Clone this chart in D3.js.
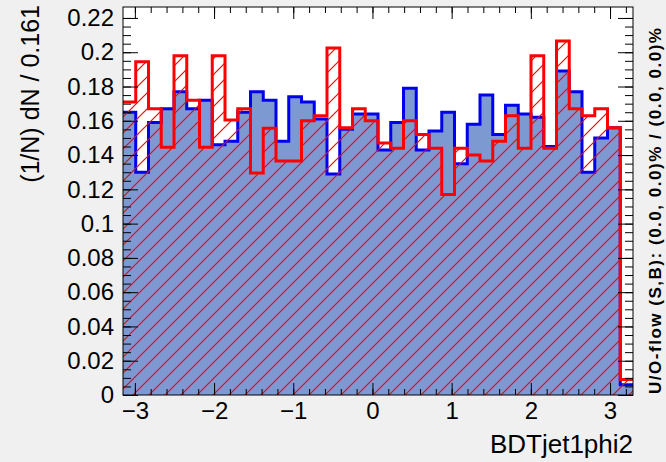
<!DOCTYPE html>
<html>
<head>
<meta charset="utf-8">
<script src="https://cdn.jsdelivr.net/npm/d3@7"></script>
<style>
  body { margin: 0; background: #f0f0f0; }
  svg { display: block; }
  text { font-family: "Liberation Sans", Arial, sans-serif; fill: #000; }
</style>
</head>
<body>
<div id="chart"></div>
<script>
// binning of the variable
const xMin = -3.15,
      binWidth = 0.161,
      nBins = 40;

// normalised signal (blue, filled) and background (red, hatched)
const signalValues = [
  0.165, 0.130, 0.159, 0.167, 0.177, 0.167, 0.172, 0.146, 0.148, 0.165,
  0.177, 0.172, 0.148, 0.174, 0.171, 0.161, 0.129, 0.155, 0.164, 0.164,
  0.143, 0.159, 0.179, 0.143, 0.154, 0.165, 0.135, 0.158, 0.175, 0.152,
  0.169, 0.164, 0.162, 0.145, 0.189, 0.177, 0.130, 0.150, 0.156, 0.006
];
const backgroundValues = [
  0.171, 0.1945, 0.167, 0.1445, 0.198, 0.172, 0.1445, 0.198, 0.1605, 0.167,
  0.1295, 0.1556, 0.1366, 0.1366, 0.160, 0.163, 0.2025, 0.156, 0.167, 0.160,
  0.147, 0.144, 0.160, 0.152, 0.144, 0.117, 0.144, 0.140, 0.1366, 0.148,
  0.163, 0.144, 0.198, 0.144, 0.2066, 0.167, 0.163, 0.167, 0.156, 0.009
];

const yTicks = [0, 0.02, 0.04, 0.06, 0.08, 0.1, 0.12, 0.14, 0.16, 0.18, 0.2, 0.22];
const xTicks = [-3, -2, -1, 0, 1, 2, 3];

const xTitle = 'BDTjet1phi2',
      yTitle = '(1/N) dN / 0.161',
      flowText = 'U/O-flow (S,B): (0.0, 0.0)% / (0.0, 0.0)%';

const width = 666,
      height = 462,
      frame = {left: 123, right: 633, top: 7, bottom: 395},
      yMax = 0.2264,
      hatchStep = 16;

const xMax = xMin + nBins * binWidth;

let svg = d3.select('#chart')
  .append('svg')
  .attr('width', width)
  .attr('height', height);

let x = d3.scaleLinear().domain([xMin, xMax]).range([frame.left, frame.right]);
let y = d3.scaleLinear().domain([0, yMax]).range([frame.bottom, frame.top]);

let defs = svg.append('defs');

defs.append('clipPath')
  .attr('id', 'frameClip')
  .append('rect')
  .attr('x', frame.left)
  .attr('y', frame.top)
  .attr('width', frame.right - frame.left)
  .attr('height', frame.bottom - frame.top);

let h = hatchStep;
let hatch = defs.append('pattern')
  .attr('id', 'hatch')
  .attr('patternUnits', 'userSpaceOnUse')
  .attr('width', h)
  .attr('height', h);
hatch.append('path')
  .attr('d', `M0,${h} L${h},0 M-4,4 L4,-4 M${h - 4},${h + 4} L${h + 4},${h - 4}`)
  .attr('stroke', '#ff0000')
  .attr('stroke-width', 1.2)
  .attr('fill', 'none');

// frame background
svg.append('rect')
  .attr('x', frame.left)
  .attr('y', frame.top)
  .attr('width', frame.right - frame.left)
  .attr('height', frame.bottom - frame.top)
  .attr('fill', '#ffffff');

function stepPoints(values) {
  let pts = values.map((v, i) => [xMin + i * binWidth, v]);
  pts.push([xMax, values[values.length - 1]]);
  return pts;
}

let area = d3.area()
  .curve(d3.curveStepAfter)
  .x(d => x(d[0]))
  .y0(y(0))
  .y1(d => y(d[1]));

let line = d3.line()
  .curve(d3.curveStepAfter)
  .x(d => x(d[0]))
  .y(d => y(d[1]));

let plot = svg.append('g').attr('clip-path', 'url(#frameClip)');

// signal
plot.append('path')
  .datum(stepPoints(signalValues))
  .attr('d', area)
  .attr('fill', '#7d99d1');
plot.append('path')
  .datum(stepPoints(signalValues))
  .attr('d', line)
  .attr('fill', 'none')
  .attr('stroke', '#0000ee')
  .attr('stroke-width', 3);

// background
plot.append('path')
  .datum(stepPoints(backgroundValues))
  .attr('d', area)
  .attr('fill', 'url(#hatch)');
plot.append('path')
  .datum(stepPoints(backgroundValues))
  .attr('d', line)
  .attr('fill', 'none')
  .attr('stroke', '#ff0000')
  .attr('stroke-width', 3);

// minor tick values
let yMinor = d3.range(0, 45).map(i => +(i * 0.005).toFixed(3)).filter(v => v <= yMax);
let xMinor = d3.range(-15, 17).map(i => +(i * 0.2).toFixed(1)).filter(v => v >= xMin && v <= xMax);

function styleAxis(g) {
  g.select('.domain').remove();
  g.selectAll('.tick line').attr('stroke', '#000').attr('stroke-width', 1);
}

// left axis
svg.append('g')
  .attr('transform', `translate(${frame.left},0)`)
  .call(d3.axisLeft(y).tickValues(yMinor).tickFormat('').tickSize(-8))
  .call(styleAxis);
svg.append('g')
  .attr('transform', `translate(${frame.left},0)`)
  .call(d3.axisLeft(y).tickValues(yTicks).tickFormat(d => d === 0 ? '0' : d3.format('~g')(d)).tickSize(-15).tickPadding(9))
  .call(styleAxis)
  .selectAll('text')
  .style('font-size', '24px');

// right axis (mirrored ticks)
svg.append('g')
  .attr('transform', `translate(${frame.right},0)`)
  .call(d3.axisRight(y).tickValues(yMinor).tickFormat('').tickSize(-8))
  .call(styleAxis);
svg.append('g')
  .attr('transform', `translate(${frame.right},0)`)
  .call(d3.axisRight(y).tickValues(yTicks).tickFormat('').tickSize(-15))
  .call(styleAxis);

// bottom axis
svg.append('g')
  .attr('transform', `translate(0,${frame.bottom})`)
  .call(d3.axisBottom(x).tickValues(xMinor).tickFormat('').tickSize(-6))
  .call(styleAxis);
svg.append('g')
  .attr('transform', `translate(0,${frame.bottom})`)
  .call(d3.axisBottom(x).tickValues(xTicks).tickFormat(d => d < 0 ? '\u2212' + Math.abs(d) : d).tickSize(-12).tickPadding(7))
  .call(styleAxis)
  .selectAll('text')
  .style('font-size', '24px');

// top axis (mirrored ticks)
svg.append('g')
  .attr('transform', `translate(0,${frame.top})`)
  .call(d3.axisTop(x).tickValues(xMinor).tickFormat('').tickSize(-6))
  .call(styleAxis);
svg.append('g')
  .attr('transform', `translate(0,${frame.top})`)
  .call(d3.axisTop(x).tickValues(xTicks).tickFormat('').tickSize(-12))
  .call(styleAxis);

// frame
svg.append('rect')
  .attr('x', frame.left)
  .attr('y', frame.top)
  .attr('width', frame.right - frame.left)
  .attr('height', frame.bottom - frame.top)
  .attr('fill', 'none')
  .attr('stroke', '#000')
  .attr('stroke-width', 1);

// titles
svg.append('text')
  .attr('x', frame.right)
  .attr('y', 453)
  .attr('text-anchor', 'end')
  .style('font-size', '26px')
  .text(xTitle);

svg.append('text')
  .attr('transform', 'translate(39,5) rotate(-90)')
  .attr('text-anchor', 'end')
  .style('font-size', '25px')
  .text(yTitle);

svg.append('text')
  .attr('transform', 'translate(661,394) rotate(-90)')
  .attr('text-anchor', 'start')
  .attr('textLength', 366)
  .attr('lengthAdjust', 'spacing')
  .style('font-size', '17px')
  .style('font-weight', 'bold')
  .text(flowText);
</script>
</body>
</html>
